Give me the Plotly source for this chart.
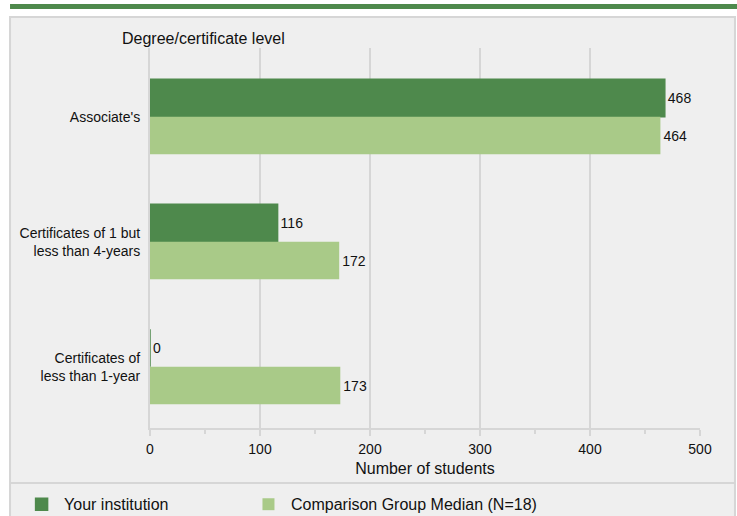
import plotly.graph_objects as go

categories = ["Associate's", "Certificates of 1 but<br>less than 4-years", "Certificates of<br>less than 1-year"]
your_institution = [468, 116, 0]
comparison_median = [464, 172, 173]

dark_green = "#4e894c"
light_green = "#a9ca88"
panel_gray = "#efefef"
line_gray = "#d6d6d6"

fig = go.Figure()
fig.add_trace(go.Bar(y=categories, x=your_institution, orientation="h",
                     name="Your institution", marker_color=dark_green,
                     marker_line=dict(color=dark_green, width=1.5),
                     text=your_institution, textposition="outside",
                     textfont=dict(size=14, color="#111"), cliponaxis=False,
                     legend="legend"))
fig.add_trace(go.Bar(y=categories, x=comparison_median, orientation="h",
                     name="Comparison Group Median (N=18)", marker_color=light_green,
                     marker_line_width=0,
                     text=comparison_median, textposition="outside",
                     textfont=dict(size=14, color="#111"), cliponaxis=False,
                     legend="legend2"))

# panel background, separator and green top strip
fig.add_shape(type="rect", xref="paper", yref="paper", x0=-0.2545, x1=1.0636, y0=-0.24, y1=1.0816,
              fillcolor=panel_gray, line=dict(color=line_gray, width=2), layer="below")
fig.add_shape(type="line", xref="paper", yref="paper", x0=-0.2545, x1=1.0636, y0=-0.145, y1=-0.145,
              line=dict(color=line_gray, width=2), layer="below")
fig.add_shape(type="rect", xref="paper", yref="paper", x0=-0.2545, x1=1.07, y0=1.1026, y1=1.1158,
              fillcolor=dark_green, line_width=0)

fig.add_annotation(text="Degree/certificate level", xref="paper", yref="paper", x=-0.0545, y=1.026,
                   xanchor="left", yanchor="middle", showarrow=False, font=dict(size=16, color="#111"))

legend_style = dict(orientation="h", y=-0.156, xanchor="left", yanchor="top", itemwidth=35,
                    font=dict(size=16, color="#111"), bgcolor="rgba(0,0,0,0)")

fig.update_layout(
    width=737, height=516,
    margin=dict(l=150, r=37, t=48, b=88, autoexpand=False),
    paper_bgcolor="white", plot_bgcolor="rgba(0,0,0,0)",
    font=dict(family="Liberation Sans, Arial, sans-serif", color="#111"),
    barmode="group", bargap=0.4, bargroupgap=0,
    showlegend=True,
    legend=dict(x=-0.238, **legend_style),
    legend2=dict(x=0.1745, **legend_style),
    xaxis=dict(range=[0, 500], dtick=100, showgrid=True, gridcolor=line_gray, gridwidth=2,
               showline=True, linecolor=line_gray, linewidth=2, ticks="outside", ticklen=6,
               tickcolor=line_gray, tickwidth=2, tickfont=dict(size=14, color="#111"),
               ticklabelstandoff=1,
               minor=dict(dtick=50, ticks="outside", ticklen=4, tickcolor=line_gray, tickwidth=2, showgrid=False),
               title=dict(text="Number of students", font=dict(size=16, color="#111"), standoff=7),
               zeroline=False, fixedrange=True),
    yaxis=dict(range=[2.49, -0.55], showline=True, linecolor=line_gray, linewidth=2,
               tickfont=dict(size=14, color="#111"), ticks="", ticklabelstandoff=5),
)

# no default page margin, so the figure sits at the window's top-left corner
fig.write_html("out.html", config={"displayModeBar": False},
               post_script="document.body.style.margin='0';")
